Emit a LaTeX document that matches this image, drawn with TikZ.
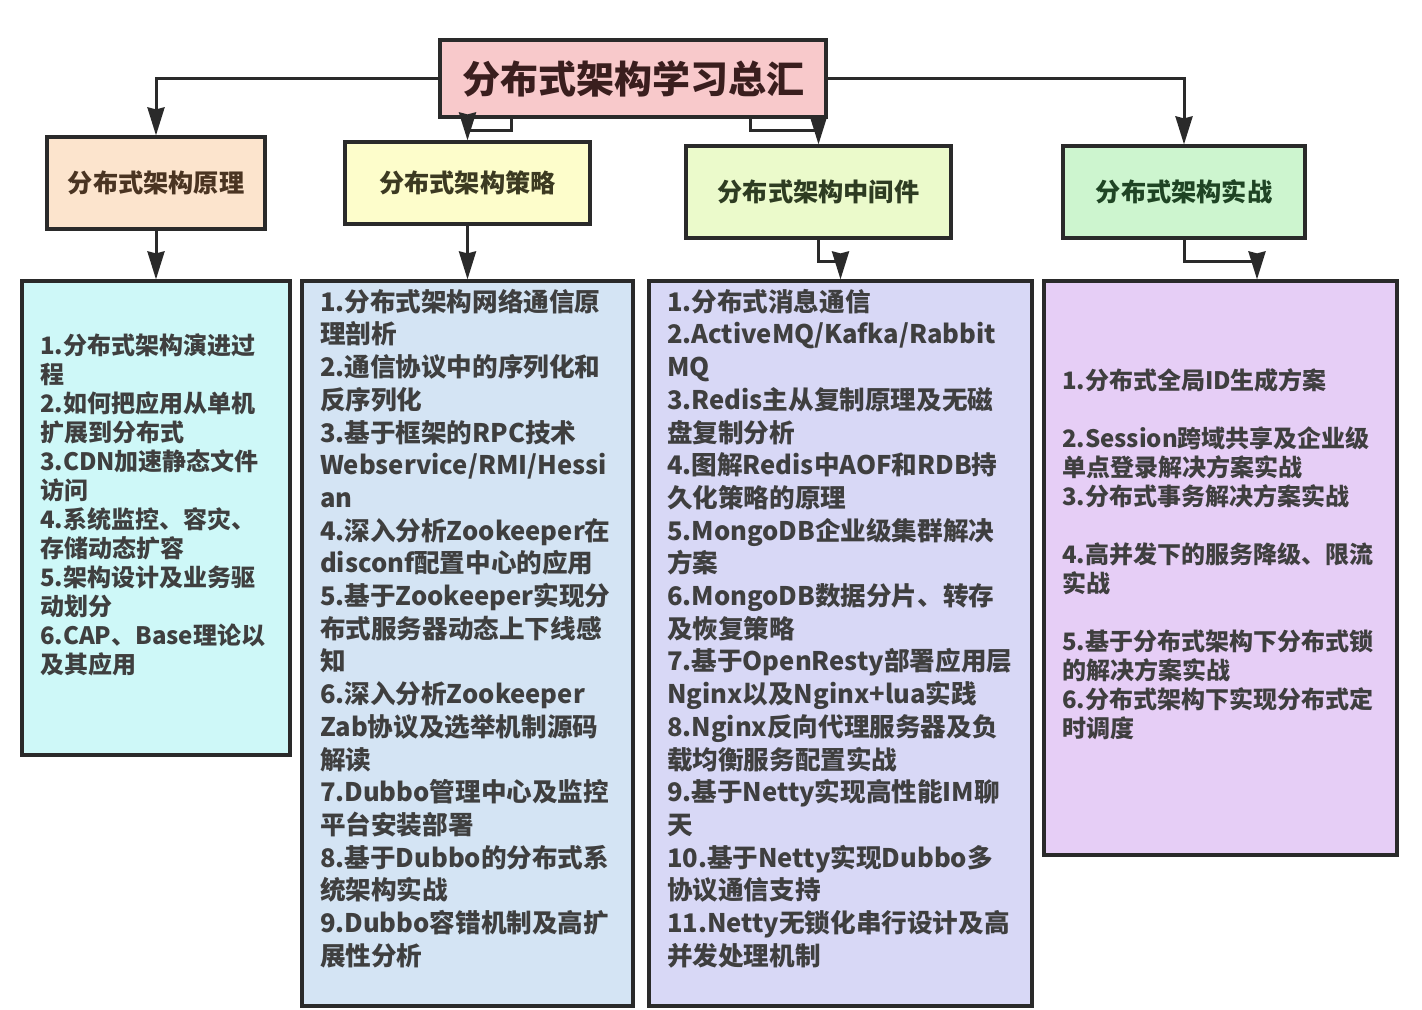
\documentclass[tikz,border=0pt]{standalone}
\usepackage{fontspec}
\usepackage{tikz}
\usetikzlibrary{arrows.meta,positioning}
\newfontfamily\cjk{Noto Sans CJK SC}
\definecolor{ink}{HTML}{2A2A2A}
\definecolor{rootbg}{HTML}{F8C9CB}
\definecolor{theorybg}{HTML}{FCE4CD}
\definecolor{strategybg}{HTML}{FDFDCB}
\definecolor{middlebg}{HTML}{EBFACB}
\definecolor{practicebg}{HTML}{CDF5CF}
\definecolor{cyanbg}{HTML}{CEF8F8}
\definecolor{bluebg}{HTML}{D4E4F4}
\definecolor{lavenderbg}{HTML}{D8D8F6}
\definecolor{purplebg}{HTML}{E6CEF6}
\definecolor{roottext}{HTML}{3A1E1E}
\definecolor{theorytext}{HTML}{4A3422}
\definecolor{strategytext}{HTML}{3C3A22}
\definecolor{middletext}{HTML}{2E3C22}
\definecolor{practicetext}{HTML}{1F4424}
\tikzset{
  rootbox/.style={draw=ink,fill=rootbg,line width=1.6pt,
                  minimum width=193pt,minimum height=38.5pt,inner sep=0pt,
                  text=roottext,font=\cjk\bfseries\fontsize{19}{23}\selectfont},
  headbox/.style={draw=ink,line width=1.6pt,minimum height=46pt,inner sep=0pt,
                  font=\cjk\bfseries\fontsize{12.6}{15}\selectfont},
  listbox/.style={draw=ink,line width=1.6pt,inner xsep=9pt,inner ysep=0pt,
                  align=left,text=ink!90,font=\cjk\bfseries\fontsize{12.8}{16.35}\selectfont},
  smalllist/.style={listbox,font=\cjk\bfseries\fontsize{12}{14.5}\selectfont},
  linkarr/.style={-{Stealth[length=14pt,width=8.5pt,inset=1pt]},line width=1.5pt,draw=ink}
}

\begin{document}
\begin{tikzpicture}[x=0.5pt,y=-0.5pt]
  \useasboundingbox[fill=white] (0,0) rectangle (1422,1010);
  \node[rootbox] (root) at (633,78.5) {分布式架构学习总汇};

  \node[headbox,fill=theorybg,text=theorytext,minimum width=109pt] (theory) at (156,183) {分布式架构原理};
  \node[headbox,fill=strategybg,text=strategytext,minimum width=122.5pt,minimum height=41pt] (strategy) at (467.5,183) {分布式架构策略};
  \node[headbox,fill=middlebg,text=middletext,minimum width=132.5pt] (middleware) at (818.5,192) {分布式架构中间件};
  \node[headbox,fill=practicebg,text=practicetext,minimum width=121pt] (practice) at (1184,192) {分布式架构实战};

  \node[smalllist,fill=cyanbg,minimum width=134pt,text width=116pt,minimum height=237pt] (theorylist) at (156,518) {%
    1.分布式架构演进过\\程\\2.如何把应用从单机\\扩展到分布式\\3.CDN加速静态文件\\访问\\
    4.系统监控、容灾、\\存储动态扩容\\5.架构设计及业务驱\\动划分\\6.CAP、Base理论以\\及其应用\\ \mbox{}};
  \node[listbox,fill=bluebg,minimum width=165.5pt,text width=147.5pt,minimum height=362.5pt] (strategylist) at (467.5,643.5) {%
    1.分布式架构网络通信原\\理剖析\\2.通信协议中的序列化和\\反序列化\\3.基于框架的RPC技术\\
    Webservice/RMI/Hessi\\an\\4.深入分析Zookeeper在\\disconf配置中心的应用\\
    5.基于Zookeeper实现分\\布式服务器动态上下线感\\知\\6.深入分析Zookeeper\\
    Zab协议及选举机制源码\\解读\\7.Dubbo管理中心及监控\\平台安装部署\\
    8.基于Dubbo的分布式系\\统架构实战\\9.Dubbo容错机制及高扩\\展性分析\\ \mbox{}};
  \node[listbox,fill=lavenderbg,minimum width=191.5pt,text width=173.5pt,minimum height=362.5pt] (middlewarelist) at (840.5,643.5) {%
    1.分布式消息通信\\2.ActiveMQ/Kafka/Rabbit\\MQ\\3.Redis主从复制原理及无磁\\盘复制分析\\
    4.图解Redis中AOF和RDB持\\久化策略的原理\\5.MongoDB企业级集群解决\\方案\\
    6.MongoDB数据分片、转存\\及恢复策略\\7.基于OpenResty部署应用层\\Nginx以及Nginx+lua实践\\
    8.Nginx反向代理服务器及负\\载均衡服务配置实战\\9.基于Netty实现高性能IM聊\\天\\
    10.基于Netty实现Dubbo多\\协议通信支持\\11.Netty无锁化串行设计及高\\并发处理机制\\ \mbox{}};
  \node[smalllist,fill=purplebg,minimum width=176.5pt,text width=158.5pt,minimum height=287pt] (practicelist) at (1220.5,568) {%
    1.分布式全局ID生成方案\\[14.5pt]2.Session跨域共享及企业级\\单点登录解决方案实战\\
    3.分布式事务解决方案实战\\[14.5pt]4.高并发下的服务降级、限流\\实战\\[14.5pt]
    5.基于分布式架构下分布式锁\\的解决方案实战\\6.分布式架构下实现分布式定\\时调度\\ \mbox{}};

  \draw[linkarr] (root.west) -| (theory.north);
  \draw[linkarr] (root.east) -| (practice.north);
  \draw[linkarr] ([xshift=-61pt]root.south) -- ++(0,12) -| (strategy.north);
  \draw[linkarr] ([xshift=58.5pt]root.south) -- ++(0,12) -| (middleware.north);

  \draw[linkarr] (theory.south) -- (theorylist.north);
  \draw[linkarr] (strategy.south) -- (strategylist.north);
  \draw[linkarr] (middleware.south) -- ++(0,22) -| (middlewarelist.north);
  \draw[linkarr] (practice.south) -- ++(0,22) -| ([xshift=18.25pt]practicelist.north);
\end{tikzpicture}
\end{document}
